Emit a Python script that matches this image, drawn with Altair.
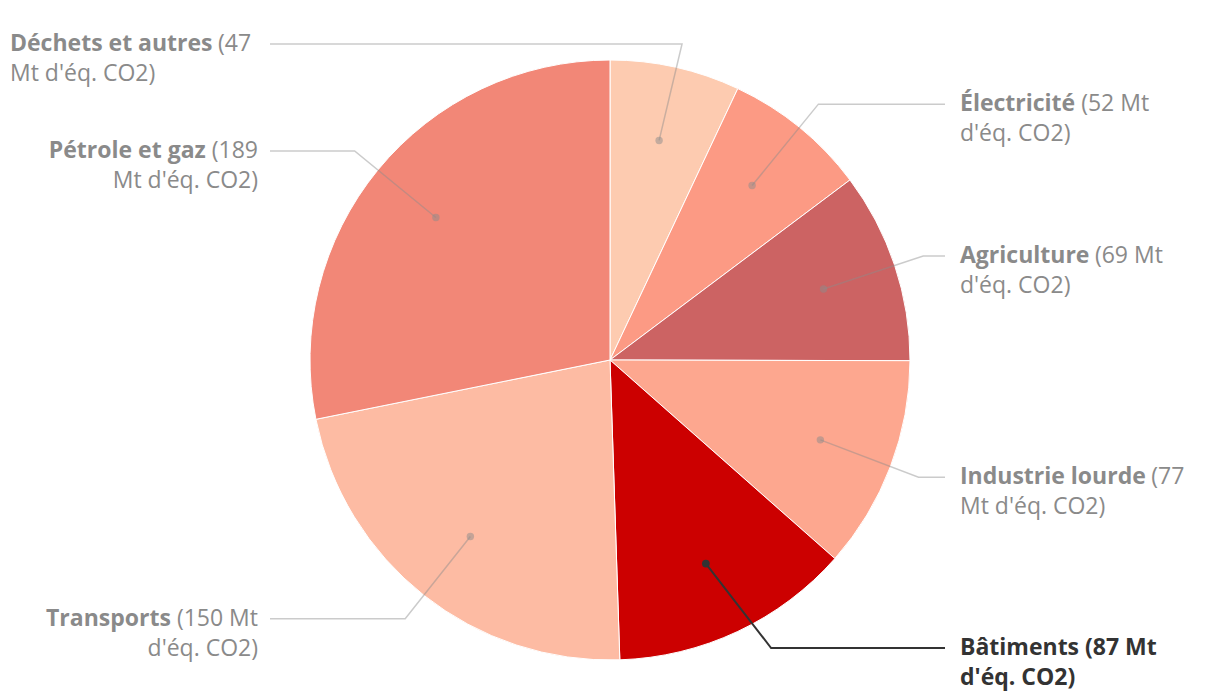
import os
import glob
import math
import altair as alt
import pandas as pd

# ---------------- data ----------------
categories = ["Déchets et autres", "Électricité", "Agriculture", "Industrie lourde",
              "Bâtiments", "Transports", "Pétrole et gaz"]
values = [47, 52, 69, 77, 87, 150, 189]
colors = ["#fdcbb0", "#fc9a84", "#cc6363", "#fda78f", "#cc0000", "#fdbba3", "#f28777"]
unit_text = "Mt d'éq. CO2)"
words_on_first_line = [1, 2, 2, 1, 2, 2, 1]   # words of "(v Mt d'éq. CO2)" kept on line 1
highlight = "Bâtiments"

# ---------------- layout ----------------
W, H = 1200, 684
CX, CY = 602, 352
R = 300
FONT = "Open Sans"
FS = 23
LINE_H = 30
GRAY_TXT = "#8a8a8a"
DARK = "#333333"
BOTTOM_LIMIT_PX = 640   # lowest first-line label position (chart px)
TOP_LIMIT_PX = 36       # highest first-line label position (chart px)

# ---------------- text measuring ----------------
def _find(names):
    for root in ["/usr/share/fonts", "/usr/local/share/fonts", os.path.expanduser("~/.fonts")]:
        for n in names:
            hits = glob.glob(os.path.join(root, "**", n), recursive=True)
            if hits:
                return hits[0]
    return None

_fonts = {}
try:
    from PIL import ImageFont
    reg = _find(["OpenSans-Regular.ttf"])
    bld = _find(["OpenSans-Bold.ttf"])
    if reg and bld:
        _fonts[False] = ImageFont.truetype(reg, FS)
        _fonts[True] = ImageFont.truetype(bld, FS)
except Exception:
    _fonts = {}

_REG = {" ": 260, "(": 296, ")": 296, "M": 907, "t": 331, "d": 613, "'": 193, "é": 561,
        "q": 613, ".": 266, "C": 633, "O": 780}
_BLD = {" ": 260, "(": 344, ")": 344, "M": 995, "t": 401, "d": 637, "'": 254, "é": 576,
        "q": 637, ".": 286, "C": 632, "O": 793, "É": 553, "l": 289, "e": 576, "c": 493,
        "r": 432, "i": 289, "A": 694, "g": 562, "u": 647, "I": 345, "n": 647, "s": 487,
        "o": 620, "B": 688, "â": 594, "m": 983, "T": 572, "a": 594, "p": 637, "P": 649,
        "z": 498, "D": 742, "h": 647}

def text_w(s, bold):
    if bold in _fonts:
        try:
            return float(_fonts[bold].getlength(s))
        except Exception:
            pass
    tbl = _BLD if bold else _REG
    return sum(tbl.get(ch, 572 if ch.isdigit() else (560 if not bold else 600)) for ch in s) * FS / 1000.0

# ---------------- derived geometry (units of radius) ----------------
total = float(sum(values))
cum = 0.0
arc_rows, line_rows, dot_rows, seg_rows = [], [], [], []
R_DOT, R_ELB = 0.75, 1.10
END_R, END_L = 335 / R, -340 / R
LBL_R, LBL_L = 350 / R, -352 / R
EDGE_PX = 2
y_min_units = (CY - BOTTOM_LIMIT_PX) / R
y_max_units = (CY - TOP_LIMIT_PX) / R

for i, (cat, v) in enumerate(zip(categories, values)):
    a = 2 * math.pi * (cum + v / 2) / total
    cum += v
    hi = bool(cat == highlight)
    arc_rows.append({"cat": cat, "value": v, "idx": i})
    dx, dy = math.sin(a), math.cos(a)
    side = "right" if dx > 0.3 else "left"
    ex, ey = R_ELB * dx, R_ELB * dy
    if ey < y_min_units:   # keep the label inside the chart: slide the elbow along its circle
        ey = y_min_units
        ex = math.copysign(math.sqrt(max(R_ELB ** 2 - ey ** 2, 0.0)), dx)
    if ey > y_max_units:
        ey = y_max_units
    endx = END_R if side == "right" else END_L
    for step, (px, py) in enumerate([(R_DOT * dx, R_DOT * dy), (ex, ey), (endx, ey)]):
        line_rows.append({"cat": cat, "step": step, "x": px, "y": py, "hi": hi})
    dot_rows.append({"cat": cat, "x": R_DOT * dx, "y": R_DOT * dy, "hi": hi})

    words = f"({v} {unit_text}".split(" ")
    n1 = words_on_first_line[i]
    tail = " ".join(words[:n1])
    l2 = " ".join(words[n1:])
    name_w = text_w(cat, True)
    sp_w = text_w(" ", hi)
    tail_w = text_w(tail, hi)
    y1 = ey
    y2 = ey - LINE_H / R
    if side == "right":
        x0 = LBL_R
        segs = [(x0, y1, cat, "left", True), (x0 + (name_w + sp_w) / R, y1, tail, "left", hi),
                (x0, y2, l2, "left", hi)]
    else:
        start_px = CX + LBL_L * R - (name_w + sp_w + tail_w)
        if start_px < 30:
            x0 = (EDGE_PX - CX) / R
            segs = [(x0, y1, cat, "left", True), (x0 + (name_w + sp_w) / R, y1, tail, "left", hi),
                    (x0, y2, l2, "left", hi)]
        else:
            segs = [(LBL_L - (tail_w + sp_w) / R, y1, cat, "right", True), (LBL_L, y1, tail, "right", hi),
                    (LBL_L, y2, l2, "right", hi)]
    for (sx, sy, st, al, bd) in segs:
        seg_rows.append({"x": float(sx), "y": float(sy), "label": st, "side_align": al,
                         "is_bold": bool(bd), "is_hi": hi})

arc_df = pd.DataFrame(arc_rows)
line_df = pd.DataFrame(line_rows)
dot_df = pd.DataFrame(dot_rows)
seg_df = pd.DataFrame(seg_rows)

xs = alt.Scale(domain=[-CX / R, (W - CX) / R], nice=False, zero=False)
ys = alt.Scale(domain=[-(H - CY) / R, CY / R], nice=False, zero=False)

pie = alt.Chart(arc_df).mark_arc(radius=R, stroke="white", strokeWidth=1).encode(
    theta=alt.Theta("value:Q", stack=True),
    order=alt.Order("idx:Q"),
    color=alt.Color("cat:N", scale=alt.Scale(domain=categories, range=colors), legend=None),
    x=alt.datum(0.0, scale=xs, axis=None),
    y=alt.datum(0.0, scale=ys, axis=None),
)

def enc_xy():
    return dict(x=alt.X("x:Q", scale=xs, axis=None), y=alt.Y("y:Q", scale=ys, axis=None))

lines_gray = alt.Chart(line_df[~line_df["hi"]]).mark_line(
    color="#8c8c8c", opacity=0.45, strokeWidth=1.5).encode(
    detail="cat:N", order="step:Q", **enc_xy())
lines_hi = alt.Chart(line_df[line_df["hi"]]).mark_line(
    color=DARK, strokeWidth=2).encode(detail="cat:N", order="step:Q", **enc_xy())
dots_gray = alt.Chart(dot_df[~dot_df["hi"]]).mark_circle(
    color="#8c8c8c", opacity=0.5, size=55).encode(**enc_xy())
dots_hi = alt.Chart(dot_df[dot_df["hi"]]).mark_circle(
    color=DARK, opacity=1, size=60).encode(**enc_xy())

text_layers = []
for al in ["left", "right"]:
    for bd in [False, True]:
        for hv in [False, True]:
            sub = seg_df[(seg_df["side_align"] == al) & (seg_df["is_bold"] == bd) & (seg_df["is_hi"] == hv)]
            if len(sub) == 0:
                continue
            text_layers.append(
                alt.Chart(sub).mark_text(align=al, baseline="middle", font=FONT, fontSize=FS,
                                         fontWeight="bold" if bd else "normal",
                                         color=DARK if hv else GRAY_TXT).encode(
                    text=alt.Text("label:N"), **enc_xy()))

chart = alt.layer(pie, lines_gray, dots_gray, lines_hi, dots_hi, *text_layers).properties(
    width=W, height=H, padding=0, autosize=alt.AutoSizeParams(type="none")
).configure_view(strokeWidth=0)

chart.save("out.html", embed_options={"renderer": "svg", "actions": False})
